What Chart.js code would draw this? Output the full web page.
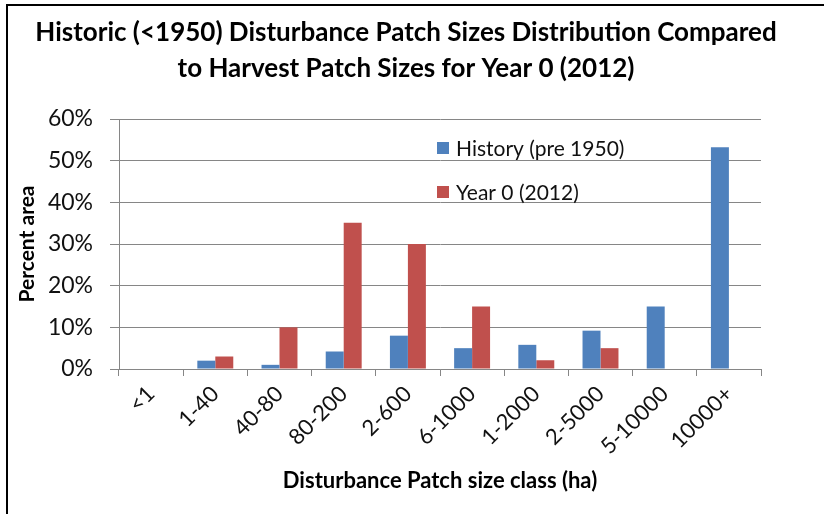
<!DOCTYPE html>
<html><head><meta charset="utf-8">
<script src="https://cdn.jsdelivr.net/npm/chart.js@4"></script>
<style>
html,body{margin:0;padding:0;background:#fff;}
#wrap{position:relative;width:824px;height:514px;overflow:hidden;}
#frame{position:absolute;left:6px;top:4px;width:900px;height:600px;border-left:2px solid #000;border-top:2px solid #000;pointer-events:none;}
canvas{position:absolute;left:0;top:0;}
</style></head><body>
<div id="wrap"><canvas id="c" width="824" height="514"></canvas><div id="frame"></div></div>
<script>
const categories = ['<1','1-40','40-80','80-200','2-600','6-1000','1-2000','2-5000','5-10000','10000+'];
const historyValues = [0, 2, 1, 4.2, 8, 5, 5.8, 9.2, 15, 53.2];
const year0Values = [0, 3, 10, 35.1, 30, 15, 2.1, 5, 0, 0];
const seriesLabels = ['History (pre 1950)', 'Year 0 (2012)'];
const seriesColors = ['#4F81BD', '#C0504D'];
const yTickValues = [0, 10, 20, 30, 40, 50, 60];
const titleLines = ['Historic (<1950) Disturbance Patch Sizes Distribution Compared', 'to Harvest Patch Sizes for Year 0 (2012)'];
const xAxisTitle = 'Disturbance Patch size class (ha)';
const yAxisTitle = 'Percent area';

Chart.defaults.font.family = 'Lato';
Chart.defaults.color = '#111';

const insideLegend = {
  id: 'insideLegend',
  afterDraw(chart) {
    const ctx = chart.ctx;
    const ys = [148, 192];
    ctx.save();
    ctx.font = '21px Lato';
    ctx.textBaseline = 'middle';
    ctx.textAlign = 'left';
    chart.data.datasets.forEach((ds, i) => {
      ctx.fillStyle = ds.backgroundColor;
      ctx.fillRect(437, ys[i] - 6, 12, 12);
      ctx.fillStyle = '#111';
      ctx.fillText(ds.label, 456, ys[i] + 1);
    });
    ctx.restore();
  }
};

new Chart(document.getElementById('c'), {
  type: 'bar',
  data: {
    labels: categories,
    datasets: [
      { label: seriesLabels[0], data: historyValues, backgroundColor: seriesColors[0], borderWidth: 0 },
      { label: seriesLabels[1], data: year0Values, backgroundColor: seriesColors[1], borderWidth: 0 }
    ]
  },
  options: {
    responsive: false,
    animation: false,
    events: [],
    categoryPercentage: 0.56,
    barPercentage: 1.0,
    layout: { padding: { left: 0, right: 12, top: 0, bottom: 0 } },
    plugins: {
      legend: { display: false },
      tooltip: { enabled: false },
      title: {
        display: true,
        text: titleLines,
        color: '#000',
        font: { size: 26, weight: 'bold', lineHeight: 36 / 26 },
        padding: { top: 15, bottom: 32 }
      }
    },
    scales: {
      x: {
        afterFit(scale) { scale.height = 145; },
        grid: { display: true, drawOnChartArea: false, drawTicks: true, tickLength: 7, color: '#868686', offset: true },
        border: { display: true, color: '#868686' },
        ticks: { autoSkip: false, minRotation: 45, maxRotation: 45, padding: 5, font: { size: 22 }, color: '#111' },
        title: { display: true, text: xAxisTitle, color: '#000', font: { size: 22, weight: 'bold', lineHeight: 1.2 }, padding: { top: 0, bottom: 20 } }
      },
      y: {
        min: 0, max: 60,
        afterFit(scale) { scale.width = 119; },
        afterBuildTicks(scale) { scale.ticks = yTickValues.map(v => ({ value: v })); },
        grid: { color: '#868686', tickLength: 9, drawTicks: true },
        border: { display: true, color: '#868686' },
        ticks: { padding: 17, font: { size: 23 }, color: '#111', callback: v => v + '%' },
        title: { display: true, text: yAxisTitle, color: '#000', font: { size: 21, weight: 'bold', lineHeight: 1.2 }, padding: { top: 15, bottom: 0 } }
      },
      rightSpace: {
        type: 'linear',
        position: 'right',
        display: true,
        afterFit(scale) { scale.width = 51; },
        grid: { display: false, drawOnChartArea: false },
        border: { display: false },
        ticks: { display: false }
      }
    }
  },
  plugins: [insideLegend]
});
</script>
</body></html>
